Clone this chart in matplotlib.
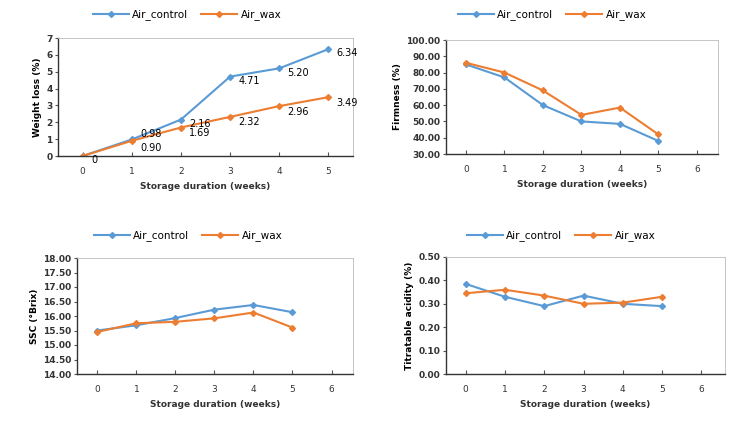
import numpy as np
from matplotlib import pyplot as plt

weeks = [0, 1, 2, 3, 4, 5]
series_names = ["Air_control", "Air_wax"]

weight_control = [0, 0.98, 2.16, 4.71, 5.20, 6.34]
weight_wax = [0, 0.90, 1.69, 2.32, 2.96, 3.49]

firm_control = [85.0, 77.0, 60.0, 50.0, 48.5, 38.0]
firm_wax = [86.0, 80.0, 69.0, 54.0, 58.5, 42.0]

ssc_control = [15.50, 15.68, 15.93, 16.22, 16.38, 16.13]
ssc_wax = [15.45, 15.75, 15.80, 15.92, 16.12, 15.60]

ta_control = [0.385, 0.33, 0.29, 0.335, 0.30, 0.29]
ta_wax = [0.345, 0.36, 0.335, 0.30, 0.305, 0.33]

BLUE = "#5B9BD5"
ORANGE = "#ED7D31"
W, H = 747, 426

fig = plt.figure(figsize=(7.47, 4.26), dpi=100)
plt.rcParams['font.family'] = ['DejaVu Sans']


def box(x0, y0, x1, y1):
    # pixel box -> figure fraction
    return [x0 / W, 1 - y1 / H, (x1 - x0) / W, (y1 - y0) / H]


def panel(rect, yc, yw, ylim, yticks, fmt, ylabel, xlim, xticks, leg_center):
    ax = fig.add_axes(box(*rect))
    l1, = ax.plot(weeks, yc, color=BLUE, lw=1.5, marker="D", ms=3)
    l2, = ax.plot(weeks, yw, color=ORANGE, lw=1.5, marker="D", ms=3)
    ax.set_ylim(*ylim)
    ax.set_yticks(yticks)
    ax.set_yticklabels([fmt % v for v in yticks], fontsize=6.5, fontweight="bold", color="#333333")
    ax.set_xlim(*xlim)
    ax.set_xticks(xticks)
    ax.set_xticklabels([str(v) for v in xticks], fontsize=6.5, color="#333333")
    ax.tick_params(axis="x", direction="in", length=3, pad=8, color="#555555")
    ax.tick_params(axis="y", direction="out", length=2, pad=2, color="#555555")
    for s in ["top", "right"]:
        ax.spines[s].set_color("#bbbbbb")
        ax.spines[s].set_linewidth(0.6)
    for s in ["left", "bottom"]:
        ax.spines[s].set_color("#333333")
        ax.spines[s].set_linewidth(1.0)
    ax.set_ylabel(ylabel, fontsize=6.5, fontweight="bold", labelpad=3)
    ax.set_xlabel("Storage duration (weeks)", fontsize=6.5, fontweight="bold", color="#333333", labelpad=4)
    fig.legend([l1, l2], series_names, loc="center", bbox_to_anchor=(leg_center[0] / W, 1 - leg_center[1] / H),
               ncol=2, frameon=False, fontsize=7.5, handlelength=3.5, columnspacing=1.2, handletextpad=0.3)
    return ax


ax1 = panel((58, 38, 353, 156), weight_control, weight_wax, (0, 7), list(range(8)), "%d",
            "Weight loss (%)", (-0.5, 5.5), weeks, (187, 15))
# data labels, nudged a little so the close ones at week 1 do not sit on each other
ctrl_off = [(6, -3), (6, 4), (6, -3), (6, -3), (6, -3), (6, -3)]
wax_off = [(6, -4), (6, -5), (6, -4), (6, -4), (6, -4), (6, -4)]
for x, v, off in zip(weeks, weight_control, ctrl_off):
    lab = "0" if v == 0 else "%.2f" % v
    ax1.annotate(lab, (x, v), xytext=off, textcoords="offset points", fontsize=7, va="center")
for x, v, off in zip(weeks, weight_wax, wax_off):
    if v == 0:
        continue
    ax1.annotate("%.2f" % v, (x, v), xytext=off, textcoords="offset points", fontsize=7, va="center")

panel((446, 40, 718, 154), firm_control, firm_wax, (30, 100), list(range(30, 101, 10)), "%.2f",
      "Firmness (%)", (-0.52, 6.55), list(range(7)), (552, 15))

panel((77, 258, 353, 374), ssc_control, ssc_wax, (14, 18), list(np.arange(14, 18.01, 0.5)), "%.2f",
      "SSC (°Brix)", (-0.52, 6.55), list(range(7)), (188, 236))

panel((446, 257, 725, 374), ta_control, ta_wax, (0, 0.5), list(np.arange(0, 0.51, 0.1)), "%.2f",
      "Titratable acidity (%)", (-0.5, 6.6), list(range(7)), (561, 236))

fig.savefig("out.png", dpi=100)
